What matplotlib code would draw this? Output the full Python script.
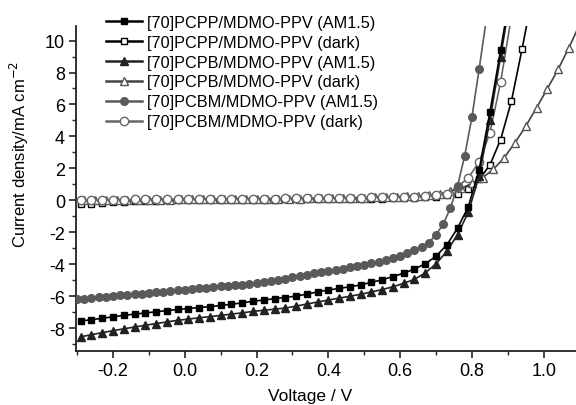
import matplotlib
matplotlib.use("Agg")
import matplotlib.pyplot as plt

plt.rcParams['font.family'] = ['Liberation Sans', 'DejaVu Sans']

# ---- data ----
v_a = [-0.29, -0.26, -0.23, -0.20, -0.17, -0.14, -0.11, -0.08, -0.05, -0.02,
       0.01, 0.04, 0.07, 0.10, 0.13, 0.16, 0.19, 0.22, 0.25, 0.28,
       0.31, 0.34, 0.37, 0.40, 0.43, 0.46, 0.49, 0.52, 0.55, 0.58,
       0.61, 0.64, 0.67, 0.70, 0.73, 0.76, 0.79, 0.82, 0.85, 0.88, 0.91]

j_pcpp_light = [-7.56, -7.48, -7.39, -7.30, -7.21, -7.13, -7.06, -6.98, -6.91, -6.84,
                -6.78, -6.72, -6.66, -6.59, -6.51, -6.43, -6.32, -6.25, -6.16, -6.09,
                -6.00, -5.88, -5.74, -5.62, -5.52, -5.42, -5.30, -5.14, -4.98, -4.78,
                -4.57, -4.30, -3.98, -3.50, -2.80, -1.75, -0.40, 1.90, 5.50, 9.40, 13.4]

j_pcpb_light = [-8.55, -8.42, -8.29, -8.17, -8.05, -7.94, -7.83, -7.72, -7.62, -7.52,
                -7.44, -7.36, -7.29, -7.21, -7.13, -7.05, -6.96, -6.89, -6.82, -6.75,
                -6.63, -6.50, -6.37, -6.25, -6.13, -6.01, -5.89, -5.74, -5.59, -5.42,
                -5.20, -4.95, -4.55, -3.98, -3.20, -2.15, -0.75, 1.50, 5.00, 9.00, 13.0]

v_pcpp_dark = [-0.29, -0.26, -0.23, -0.20, -0.17, -0.14, -0.11, -0.08, -0.05, -0.02,
               0.01, 0.04, 0.07, 0.10, 0.13, 0.16, 0.19, 0.22, 0.25, 0.28,
               0.31, 0.34, 0.37, 0.40, 0.43, 0.46, 0.49, 0.52, 0.55, 0.58,
               0.61, 0.64, 0.67, 0.70, 0.73, 0.76, 0.79, 0.82, 0.85, 0.88, 0.91,
               0.94, 0.97]
j_pcpp_dark = [-0.26, -0.21, -0.16, -0.12, -0.08, -0.05, -0.03, -0.02, -0.01, 0.00,
               0.00, 0.01, 0.01, 0.02, 0.02, 0.03, 0.03, 0.04, 0.04, 0.05,
               0.05, 0.06, 0.06, 0.07, 0.07, 0.08, 0.09, 0.10, 0.11, 0.12,
               0.14, 0.16, 0.19, 0.23, 0.30, 0.42, 0.70, 1.30, 2.20, 3.80, 6.20,
               9.50, 13.0]

j_pcbm_dark = [0.02, 0.03, 0.03, 0.04, 0.04, 0.05, 0.05, 0.06, 0.06, 0.07,
               0.07, 0.08, 0.08, 0.09, 0.09, 0.10, 0.10, 0.11, 0.11, 0.12,
               0.12, 0.13, 0.13, 0.14, 0.15, 0.16, 0.17, 0.18, 0.19, 0.20,
               0.21, 0.23, 0.25, 0.30, 0.42, 0.85, 1.40, 2.40, 4.20, 7.40, 11.5]

v_pcpb_dark = [-0.28, -0.25, -0.22, -0.19, -0.16, -0.13, -0.10, -0.07, -0.04, -0.01,
               0.02, 0.05, 0.08, 0.11, 0.14, 0.17, 0.20, 0.23, 0.26, 0.29,
               0.32, 0.35, 0.38, 0.41, 0.44, 0.47, 0.50, 0.53, 0.56, 0.59,
               0.62, 0.65, 0.68, 0.71, 0.74, 0.77, 0.80, 0.83, 0.86, 0.89,
               0.92, 0.95, 0.98, 1.01, 1.04, 1.07, 1.10]
j_pcpb_dark = [0.00, 0.01, 0.01, 0.02, 0.02, 0.03, 0.03, 0.04, 0.04, 0.05,
               0.05, 0.06, 0.06, 0.07, 0.07, 0.08, 0.08, 0.09, 0.10, 0.10,
               0.11, 0.12, 0.13, 0.14, 0.15, 0.16, 0.17, 0.18, 0.20, 0.22,
               0.24, 0.27, 0.30, 0.40, 0.55, 0.75, 1.05, 1.42, 1.94, 2.67,
               3.60, 4.64, 5.79, 6.98, 8.19, 9.54, 11.0]

v_c = [-0.30, -0.28, -0.26, -0.24, -0.22, -0.20, -0.18, -0.16, -0.14, -0.12,
       -0.10, -0.08, -0.06, -0.04, -0.02, 0.00, 0.02, 0.04, 0.06, 0.08,
       0.10, 0.12, 0.14, 0.16, 0.18, 0.20, 0.22, 0.24, 0.26, 0.28,
       0.30, 0.32, 0.34, 0.36, 0.38, 0.40, 0.42, 0.44, 0.46, 0.48,
       0.50, 0.52, 0.54, 0.56, 0.58, 0.60, 0.62, 0.64, 0.66, 0.68,
       0.70, 0.72, 0.74, 0.76, 0.78, 0.80, 0.82, 0.84]
j_pcbm_light = [-6.20, -6.16, -6.12, -6.08, -6.04, -6.00, -5.96, -5.92, -5.88, -5.84,
                -5.80, -5.76, -5.72, -5.68, -5.64, -5.60, -5.56, -5.52, -5.48, -5.44,
                -5.40, -5.36, -5.32, -5.28, -5.24, -5.20, -5.13, -5.07, -5.00, -4.92,
                -4.83, -4.74, -4.66, -4.58, -4.50, -4.43, -4.36, -4.29, -4.21, -4.13,
                -4.05, -3.96, -3.87, -3.74, -3.60, -3.46, -3.32, -3.12, -2.90, -2.65,
                -2.15, -1.50, -0.50, 0.90, 2.80, 5.20, 8.20, 11.3]

labels = ["[70]PCPP/MDMO-PPV (AM1.5)", "[70]PCPP/MDMO-PPV (dark)",
          "[70]PCPB/MDMO-PPV (AM1.5)", "[70]PCPB/MDMO-PPV (dark)",
          "[70]PCBM/MDMO-PPV (AM1.5)", "[70]PCBM/MDMO-PPV (dark)"]

x_ticks = [-0.2, 0.0, 0.2, 0.4, 0.6, 0.8, 1.0]
y_ticks = [-8, -6, -4, -2, 0, 2, 4, 6, 8, 10]

# ---- figure ----
fig = plt.figure(figsize=(5.76, 4.06), dpi=100)
ax = fig.add_axes([0.132, 0.133, 0.868, 0.800])

lw = 1.2
ms = 5
h1, = ax.plot(v_a, j_pcpp_light, '-s', color='black', lw=lw, ms=ms, mfc='black', mec='black', zorder=6)
h2, = ax.plot(v_pcpp_dark, j_pcpp_dark, '-s', color='black', lw=lw, ms=ms, mfc='white', mec='black', zorder=3)
h3, = ax.plot(v_a, j_pcpb_light, '-^', color='#222222', lw=lw, ms=ms + 0.5, mfc='#222222', mec='#222222', zorder=5)
h4, = ax.plot(v_pcpb_dark, j_pcpb_dark, '-^', color='#444444', lw=lw, ms=ms + 0.5, mfc='white', mec='#555555', zorder=4)
h5, = ax.plot(v_c, j_pcbm_light, '-o', color='#5a5a5a', lw=lw, ms=ms + 0.5, mfc='#5a5a5a', mec='#5a5a5a', zorder=5)
h6, = ax.plot(v_a, j_pcbm_dark, '-o', color='#666666', lw=lw, ms=ms + 1, mfc='white', mec='#666666', zorder=4)

ax.set_xlim(-0.303, 1.09)
ax.set_ylim(-9.44, 10.9)
ax.set_xticks(x_ticks)
ax.set_xticklabels([f"{t:.1f}" for t in x_ticks])
ax.set_yticks(y_ticks)
ax.set_yticklabels([str(t) for t in y_ticks])
ax.set_xticks([-0.3, -0.1, 0.1, 0.3, 0.5, 0.7, 0.9], minor=True)
ax.set_yticks([-9, -7, -5, -3, -1, 1, 3, 5, 7, 9], minor=True)

for s in ['top', 'right']:
    ax.spines[s].set_visible(False)
for s in ['left', 'bottom']:
    ax.spines[s].set_linewidth(1.3)
    ax.spines[s].set_color('#222222')

ax.tick_params(which='major', direction='out', length=5, width=1.2, labelsize=13, colors='#222222', pad=3)
ax.tick_params(which='minor', direction='out', length=3, width=1.0, colors='#222222')
for lab in ax.get_xticklabels() + ax.get_yticklabels():
    lab.set_color('black')

ax.set_xlabel("Voltage / V", fontsize=12.5)
ax.set_ylabel("Current density/mA cm$^{-2}$", fontsize=12)
ax.xaxis.set_label_coords(0.468, -0.115)
ax.yaxis.set_label_coords(-0.09, 0.607)

leg = ax.legend([h1, h2, h3, h4, h5, h6], labels, loc='upper left',
                bbox_to_anchor=(0.06, 1.035), frameon=False, fontsize=11.7,
                handlelength=2.2, handletextpad=0.3, labelspacing=0.3,
                borderpad=0, borderaxespad=0)
for ln in leg.get_lines():
    ln.set_linewidth(1.8)

fig.savefig("out.png", dpi=100)
